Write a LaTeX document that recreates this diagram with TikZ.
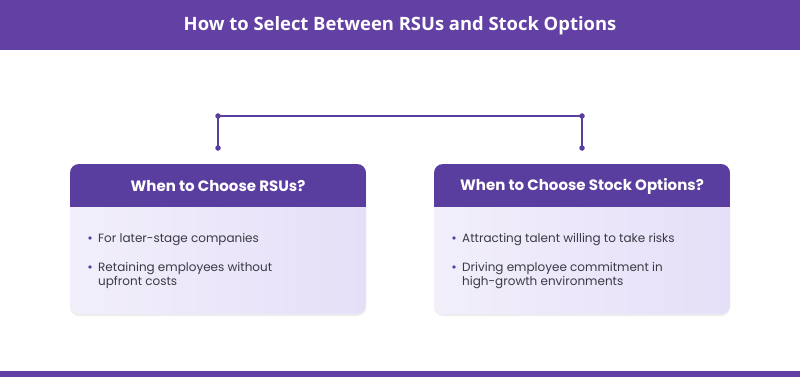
\documentclass[tikz,border=0pt]{standalone}
\usepackage{fontspec}
\setmainfont{Poppins}
\newfontfamily\titlefont{Open Sans}
\definecolor{banner}{HTML}{6340A3}
\definecolor{hdr}{HTML}{5A3E9F}
\definecolor{bodyL}{HTML}{F2EFFB}
\definecolor{bodyR}{HTML}{E5DFF8}
\definecolor{txt}{HTML}{3A3A44}
\definecolor{linec}{HTML}{5A3E9F}
\begin{document}
\begin{tikzpicture}[x=1pt,y=-1pt,
  dotnode/.style={circle,fill=linec,inner sep=0pt,minimum size=5.5pt},
  conn/.style={draw=linec,line width=1.8pt},
  boxnode/.style={minimum width=296pt,minimum height=150pt,inner sep=0pt,outer sep=0pt},
  hdrtext/.style={text=white,font=\bfseries\fontsize{15}{18}\selectfont},
  bullettext/.style={anchor=base west,text=txt,font=\fontsize{12}{14}\selectfont,align=left,inner sep=0pt},
  bulletdot/.style={circle,fill=hdr,inner sep=0pt,minimum size=3.8pt}]
\useasboundingbox (0,0) rectangle (800,377);
\fill[white] (0,0) rectangle (800,377);
% top banner
\fill[banner] (0,0) rectangle (800,50);
\node (title) at (400,26) [text=white,font=\titlefont\bfseries\fontsize{18.4}{21}\selectfont] {How to Select Between RSUs and Stock Options};
% bottom bar
\fill[banner] (0,371) rectangle (800,377);
% connector
\node[dotnode] (dlt) at (218,116) {};
\node[dotnode] (drt) at (582,116) {};
\node[dotnode] (dlb) at (218,148) {};
\node[dotnode] (drb) at (582,148) {};
\draw[conn] (dlb.center) -- (dlt.center) -- (drt.center) -- (drb.center);
% boxes
\foreach \nm/\cx in {rsu/218,opt/582}{
  \node[boxnode] (\nm) at (\cx,239) {};
  \fill[black!7,rounded corners=9pt] ([yshift=-2pt]\nm.north west) rectangle ([yshift=-2pt]\nm.south east);
  \shade[left color=bodyL,right color=bodyR,rounded corners=9pt] (\nm.north west) rectangle (\nm.south east);
  \begin{scope}
    \clip[rounded corners=9pt] (\nm.north west) rectangle (\nm.south east);
    \fill[hdr] (\nm.north west) rectangle ([yshift=-43pt]\nm.north east);
  \end{scope}
}
\node[hdrtext] (rsuh) at (218,186) {When to Choose RSUs?};
\node[hdrtext] (opth) at (582,186) {When to Choose Stock Options?};
% bullets left
\node[bulletdot] (b1) at (90,238) {};
\node[bullettext] (t1) at (98,242) {For later-stage companies};
\node[bulletdot] (b2) at (90,267) {};
\node[bullettext] (t2) at (98,285.5) {Retaining employees without\\upfront costs};
% bullets right
\node[bulletdot] (b3) at (454,238) {};
\node[bullettext] (t3) at (462,242) {Attracting talent willing to take risks};
\node[bulletdot] (b4) at (454,267) {};
\node[bullettext] (t4) at (462,285.5) {Driving employee commitment in\\high-growth environments};
\end{tikzpicture}
\end{document}
